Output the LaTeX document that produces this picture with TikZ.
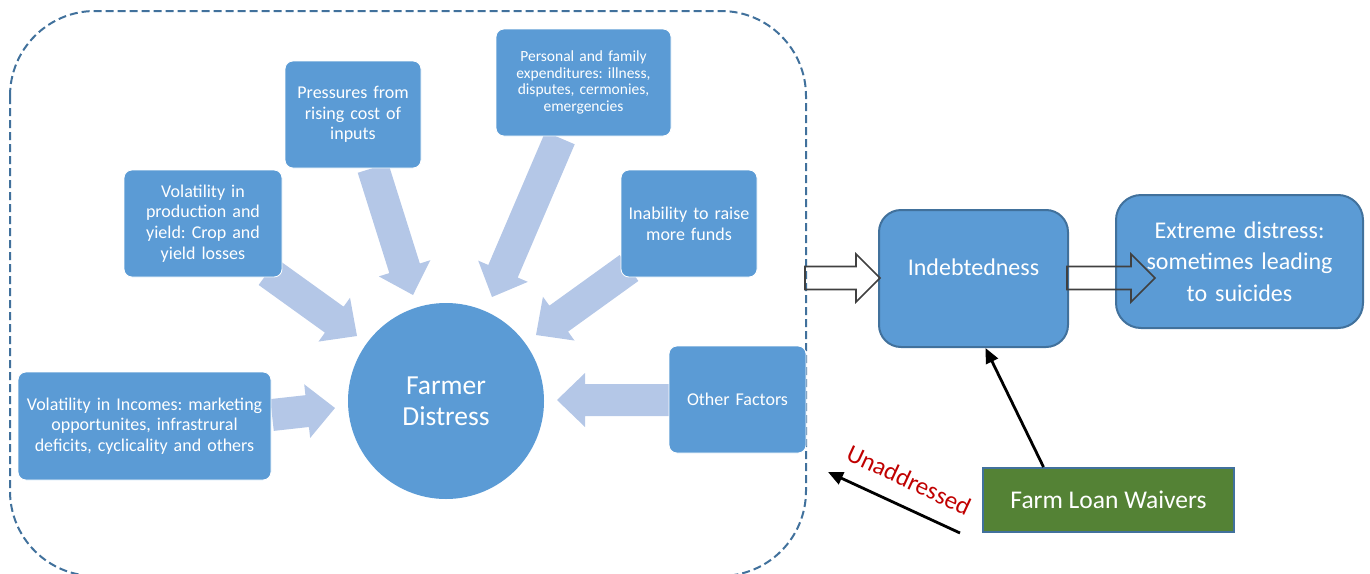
\documentclass[tikz,border=0pt]{standalone}
\usepackage{fontspec}
\setmainfont{Carlito}
\usetikzlibrary{calc,arrows.meta}
\definecolor{boxblue}{HTML}{5B9BD5}
\definecolor{edgeblue}{HTML}{41719C}
\definecolor{lightarr}{HTML}{B4C7E7}
\definecolor{farmgreen}{HTML}{548235}
\definecolor{hollowgray}{HTML}{404040}
\definecolor{darkred}{HTML}{C00000}
\newcommand\barSW{16pt}
\newcommand\barHW{27pt}
\newcommand\barHL{28pt}
\newcommand\blockarr[3][]{%
  \coordinate (bac) at ($(#3)!\barHL!(#2)$);
  \path[#1] ($(#2)!\barSW!90:(#3)$) -- ($(bac)!\barSW!90:(#3)$) -- ($(bac)!\barHW!90:(#3)$) -- (#3)
    -- ($(bac)!\barHW!-90:(#3)$) -- ($(bac)!\barSW!-90:(#3)$) -- ($(#2)!\barSW!-90:(#3)$) -- cycle;}
\frenchspacing
\begin{document}
\begin{tikzpicture}[x=1pt,y=-1pt,
  sbox/.style={draw=white, line width=0.8pt, fill=boxblue, rounded corners=8pt, text=white,
    align=center, inner sep=5pt, minimum height=107pt},
  fbig/.style={font=\fontsize{18}{20.7}\selectfont},
  fsmall/.style={font=\fontsize{15.5}{16.8}\selectfont},
  bigbox/.style={draw=edgeblue, line width=2pt, fill=boxblue, text=white, align=center, inner sep=5pt},
  hollow/.style={draw=hollowgray, line width=1.6pt, line join=miter},
  blackarr/.style={draw=black, line width=2.8pt, -{Triangle[length=15pt,width=13pt]}}
]
\useasboundingbox (0,0) rectangle (1370,573);
% dashed frame
\draw[edgeblue, dash pattern=on 8pt off 4pt, line width=2pt, rounded corners=85pt] (10,11) rectangle (806,576);
% light block arrows
\coordinate (aT) at (268,272); \coordinate (aH) at (357,336);
\coordinate (bT) at (373,168); \coordinate (bH) at (413,295);
\coordinate (cT) at (560,138); \coordinate (cH) at (492,297);
\coordinate (dT) at (629,268); \coordinate (dH) at (536,335);
\coordinate (eT) at (272,415); \coordinate (eH) at (335,408);
\coordinate (fT) at (670,400); \coordinate (fH) at (557,400);
\blockarr[fill=lightarr]{aT}{aH}
\blockarr[fill=lightarr]{bT}{bH}
\blockarr[fill=lightarr]{cT}{cH}
\blockarr[fill=lightarr]{dT}{dH}
\blockarr[fill=lightarr]{eT}{eH}
\blockarr[fill=lightarr]{fT}{fH}
% boxes
\node[sbox, fbig, text width=126pt] (press) at (353,114.5) {Pressures from\\rising cost of\\inputs};
\node[sbox, fsmall, text width=165pt] (pers) at (583.5,82.5) {Personal and family\\expenditures: illness,\\disputes, cermonies,\\emergencies};
\node[sbox, fbig, text width=148pt] (volprod) at (203,223.5) {Volatility in\\production and\\yield: Crop and\\yield losses};
\node[sbox, fbig, text width=126pt] (inab) at (689,223.5) {Inability to raise\\more funds};
\node[sbox, fbig, text width=243pt, minimum height=108pt] (volinc) at (144.5,426) {Volatility in Incomes: marketing\\opportunites, infrastrural\\deficits, cyclicality and others};
\node[sbox, fbig, text width=127pt] (other) at (737.5,399.5) {Other Factors};
\node[circle, fill=boxblue, minimum size=196pt, inner sep=0pt, text=white, align=center,
  font=\fontsize{27.5}{31}\selectfont] (farmer) at (446,401) {Farmer\\Distress};
% right part
\node[bigbox, minimum width=189pt, minimum height=137pt, rounded corners=22pt] (indeb) at (973.5,278.5) {};
\node[text=white, font=\fontsize{24}{28}\selectfont, inner sep=0pt] (indebT) at (973.5,267) {Indebtedness};
\node[bigbox, minimum width=247pt, minimum height=133pt, text width=237pt, rounded corners=25pt,
  font=\fontsize{24}{31.5}\selectfont] (extr) at (1239.5,261.5) {Extreme distress:\\sometimes leading\\to suicides};
% hollow arrows
\renewcommand\barSW{11.5pt}\renewcommand\barHW{24pt}\renewcommand\barHL{24pt}
\coordinate (h1T) at (805,278); \coordinate (h1H) at (880,278);
\coordinate (h2T) at (1067,278); \coordinate (h2H) at (1155,278);
\blockarr[hollow]{h1T}{h1H}
\blockarr[hollow]{h2T}{h2H}
\node[draw=edgeblue, line width=2pt, fill=farmgreen, minimum width=251pt, minimum height=64pt,
  text=white, font=\fontsize{25.5}{28}\selectfont] (flw) at (1108.5,500) {Farm Loan Waivers};
% black arrows
\coordinate (fa) at ([xshift=-65pt]flw.north);
\coordinate (ia) at ([xshift=12pt]indeb.south);
\draw[blackarr] (fa) -- (ia);
\coordinate (ua) at (960,533); \coordinate (ub) at (828,472);
\draw[blackarr] (ua) -- (ub);
\node[rotate=-25, text=darkred, font=\fontsize{25}{27}\selectfont, inner sep=0pt] (unaddr) at (909,480) {Unaddressed};
\end{tikzpicture}
\end{document}
